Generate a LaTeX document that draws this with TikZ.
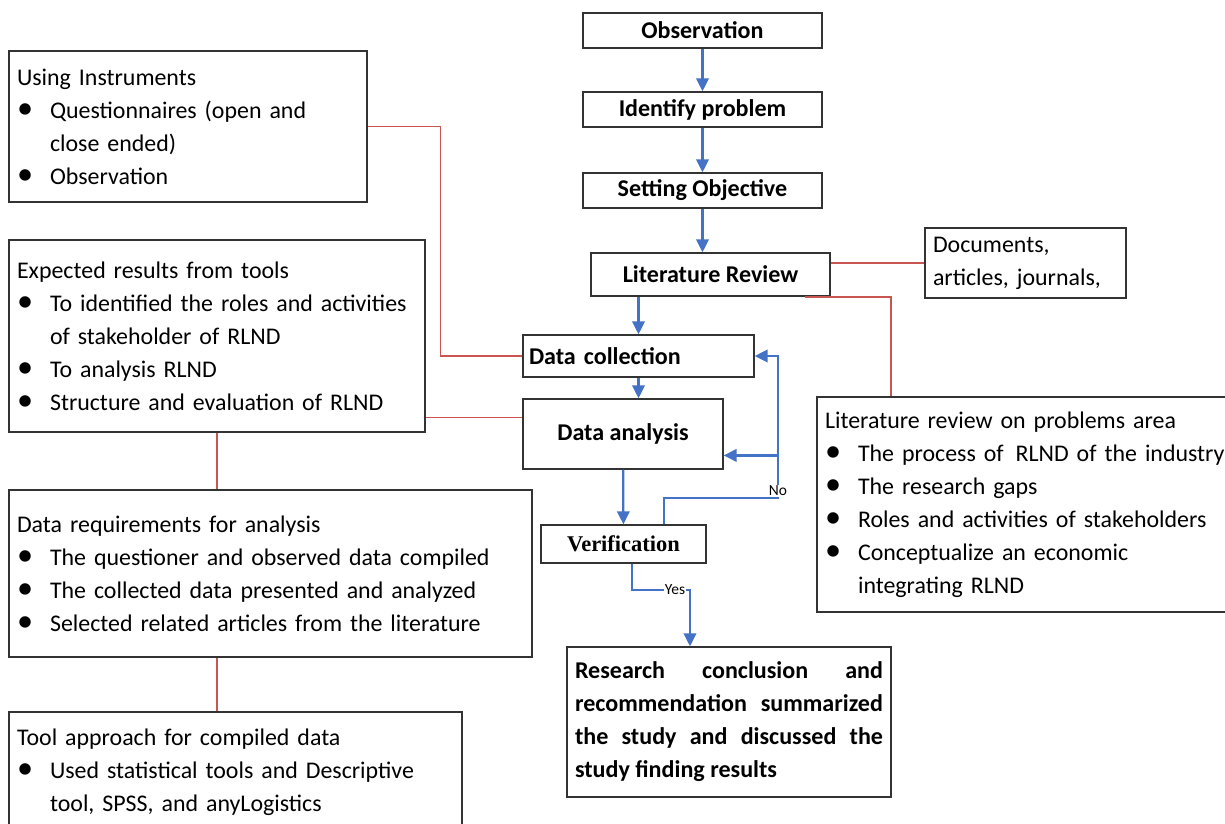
\documentclass[tikz,border=0pt]{standalone}
\usepackage{fontspec}
\setmainfont{Carlito}
\newfontfamily\timesfont{Liberation Serif}
\usepackage{xcolor}
\usetikzlibrary{arrows.meta,calc,positioning}
\definecolor{flowblue}{RGB}{68,114,196}
\definecolor{linkred}{RGB}{200,85,80}
\newcommand{\bul}{\makebox[0.66cm][l]{\scalebox{1.35}{\textbullet}}}
\newcommand{\cont}{\hspace*{0.66cm}}
\hbadness=10000
\hyphenpenalty=10000

\begin{document}
\begin{tikzpicture}[x=0.02cm, y=-0.02cm]
	\tikzstyle{every node}=[font=\fontsize{13.6}{18.8}\selectfont]
	\tikzstyle{stepbox}=[draw=black!80, line width=0.8pt, font=\fontsize{13.7}{18.8}\selectfont\bfseries, inner sep=0pt, align=center]
	\tikzstyle{infobox}=[draw=black!80, line width=0.8pt, inner xsep=0.16cm, inner ysep=0pt, align=left]
	\tikzstyle{flow}=[draw=flowblue, line width=1.3pt, -{Triangle[length=0.26cm,width=0.25cm]}]
	\tikzstyle{link}=[draw=linkred, line width=0.9pt]
	\tikzstyle{tag}=[fill=white, inner sep=0.5pt, font=\fontsize{8.8}{10}\selectfont]
	\useasboundingbox (0,0) rectangle (1225,823);
	\clip (0,0) rectangle (1225,823);

	% main steps
	\node [stepbox, minimum width=4.78cm, minimum height=0.70cm] (obs) at (702.5,30.5) {Observation};
	\node [stepbox, minimum width=4.78cm, minimum height=0.70cm] (ident) at (702.5,109.5) {Identify problem};
	\node [stepbox, minimum width=4.78cm, minimum height=0.70cm] (obj) at (702.5,190.5) {Setting Objective};
	\node [stepbox, minimum width=4.78cm, minimum height=0.86cm] (litrev) at (710.5,274.5) {Literature Review};
	\node [stepbox, minimum height=0.84cm, text width=4.38cm, align=left, inner xsep=0.12cm] (collect) at (638.5,356) {Data collection};
	\node [stepbox, minimum width=4.0cm, minimum height=1.4cm] (analysis) at (623,434) {Data analysis};
	\node [stepbox, minimum width=3.3cm, minimum height=0.76cm, font=\fontsize{12.8}{15}\selectfont\timesfont\bfseries] (verify) at (623.5,544) {Verification};
	\node [stepbox, text width=6.16cm, inner xsep=0.16cm, minimum height=3.0cm, align=justify] (concl) at (729,722) {Research conclusion and\linebreak recommendation summarized\linebreak the study and discussed the\linebreak study finding results};

	% side notes
	\node [infobox, text width=6.84cm, minimum height=3.02cm] (instr) at (188,126.5) {Using Instruments\\ \bul Questionnaires (open and\\ \cont close ended)\\ \bul Observation};
	\node [infobox, text width=8.0cm, minimum height=3.84cm] (expect) at (217,336) {Expected results from tools\\ \bul To identified the roles and activities\\ \cont of stakeholder of RLND\\ \bul To analysis RLND\\ \bul Structure and evaluation of RLND};
	\node [infobox, text width=10.14cm, minimum height=3.34cm] (dreq) at (270.5,573.5) {Data requirements for analysis\\ \bul The questioner and observed data compiled\\ \bul The collected data presented and analyzed\\ \bul Selected related articles from the literature};
	\node [infobox, text width=8.74cm, minimum height=2.4cm] (tool) at (235.5,772) {Tool approach for compiled data\\ \bul Used statistical tools and Descriptive\\ \cont tool, SPSS, and anyLogistics};
	\node [infobox, text width=3.70cm, minimum height=1.4cm] (docs) at (1025.5,263) {Documents,\\ articles, journals,};
	\node [infobox, text width=8.14cm, minimum height=4.3cm] (litprob) at (1028.5,504.5) {Literature review on problems area\\ \bul The process of\, RLND of the industry\\ \bul The research gaps\\ \bul Roles and activities of stakeholders\\ \bul Conceptualize an economic\\ \cont integrating RLND};

	% flow arrows
	\draw [flow] (obs) -- (ident);
	\draw [flow] (ident) -- (obj);
	\draw [flow] (obj.south) -- (obj.south |- litrev.north);
	\draw [flow] (litrev.south -| collect.north) -- (collect.north);
	\draw [flow] (collect.south) -- (collect.south |- analysis.north);
	\draw [flow] (analysis) -- (verify);
	\coordinate (nocorner) at (778,498);
	\draw [flow] ([xshift=0.81cm]verify.north) |- (nocorner) |- (collect.east);
	\draw [flow] (nocorner) |- ($(analysis.south east)!0.2!(analysis.north east)$);
	\coordinate (yescorner) at (690,590);
	\draw [flow] ([xshift=0.17cm]verify.south) |- (yescorner) -- (yescorner |- concl.north);
	\node [tag] (no) at ([yshift=0.14cm]nocorner) {No};
	\node [tag] (yes) at (675,590) {Yes};

	% red links
	\draw [link] (instr.east) -- ++(73,0) |- (collect.west);
	\draw [link] ($(analysis.north west)!0.27!(analysis.south west)$) coordinate (ax) -- (ax -| expect.east);
	\draw [link] (expect.south) -- (expect.south |- dreq.north);
	\draw [link] (dreq.south -| expect.south) -- (tool.north -| expect.south);
	\draw [link] (docs.west -| litrev.east) -- (docs.west);
	\draw [link] ([xshift=-0.52cm]litrev.south east) -| ([xshift=-2.75cm]litprob.north);
\end{tikzpicture}
\end{document}
